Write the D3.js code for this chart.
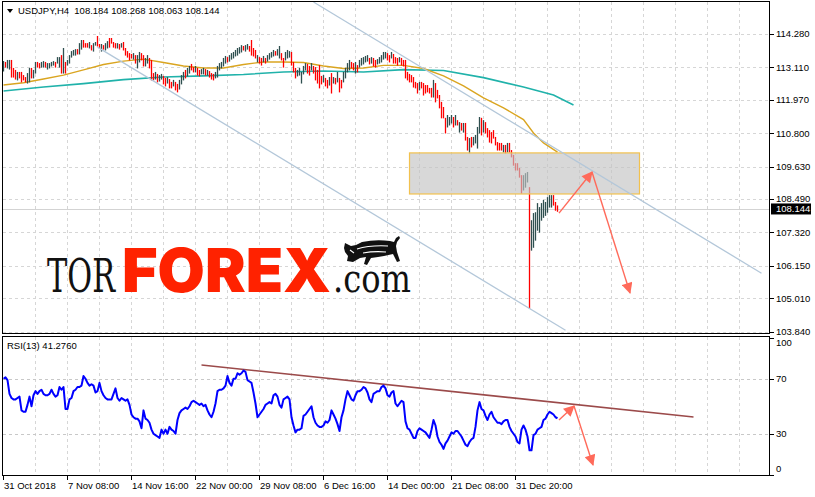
<!DOCTYPE html>
<html><head><meta charset="utf-8">
<script src="https://cdn.jsdelivr.net/npm/d3@7"></script>
<style>body{margin:0;background:#fff}svg{display:block}text{font-family:"Liberation Sans",Arial,sans-serif}</style>
</head><body>
<svg id="c" width="815" height="497"></svg>
<script>
// ---------------- DATA ----------------
const symbolTitle = "USDJPY,H4";
const lastOHLC = [108.184, 108.268, 108.063, 108.144];
const rsiTitle = "RSI(13) 41.2760";
const priceTicks = [114.280, 113.110, 111.970, 110.800, 109.630, 108.490, 107.320, 106.150, 105.010, 103.840];
const rsiTicks = [100, 70, 30, 0];
const rsiLevels = [70, 30];
const dateTickBars = [0, 32, 64, 96, 128, 160, 192, 224, 256];
const dateTickLabels = ["31 Oct 2018", "7 Nov 08:00", "14 Nov 16:00", "22 Nov 00:00", "29 Nov 08:00", "6 Dec 16:00", "14 Dec 00:00", "21 Dec 08:00", "31 Dec 20:00"];

const highs = [
113.33,113.30,113.37,113.37,113.37,113.09,113.02,112.95,112.95,112.95,
112.84,112.77,112.91,113.09,113.09,113.02,113.30,113.30,113.26,113.30,
113.33,113.30,113.26,113.26,113.30,113.33,113.30,113.47,113.47,113.54,
113.79,113.30,113.37,113.54,113.68,113.72,113.75,113.75,113.96,114.07,
114.07,113.96,113.96,114.00,113.89,113.96,114.00,114.21,113.93,113.93,
113.89,113.96,114.03,114.14,114.14,114.00,113.96,113.96,113.93,113.96,
114.00,113.79,113.68,113.61,113.58,113.61,113.54,113.54,113.65,113.61,
113.54,113.44,113.54,113.44,113.37,112.91,112.95,112.88,112.84,112.88,
112.81,112.74,112.77,112.70,112.60,112.67,112.60,112.53,112.67,112.84,
112.95,113.02,113.09,113.16,113.23,113.12,113.16,113.09,113.02,113.05,
113.09,113.05,113.02,112.98,112.91,112.88,112.95,113.16,113.26,113.30,
113.44,113.51,113.47,113.54,113.61,113.65,113.72,113.79,113.82,113.89,
113.86,113.89,113.93,113.86,114.07,113.79,113.72,113.54,113.47,113.44,
113.51,113.44,113.54,113.61,113.65,113.72,113.68,113.75,113.86,113.61,
113.44,113.65,113.72,113.68,113.65,113.30,113.09,113.02,113.09,112.95,
113.16,113.26,113.23,113.16,113.26,113.16,113.12,113.02,113.19,112.81,
112.84,112.74,112.67,112.77,112.91,112.77,112.74,112.95,112.74,112.67,
112.95,113.09,113.26,113.37,113.30,113.26,113.30,113.19,113.37,113.44,
113.47,113.51,113.54,113.44,113.47,113.44,113.37,113.40,113.47,113.54,
113.65,113.65,113.61,113.54,113.65,113.58,113.47,113.44,113.47,113.44,
113.37,113.37,112.95,112.88,112.84,112.77,112.60,112.56,112.60,112.60,
112.56,112.49,112.49,112.39,112.39,112.67,112.56,112.32,112.14,111.90,
111.72,111.34,111.44,111.37,111.44,111.37,111.44,111.26,111.19,111.16,
111.16,111.16,110.67,110.63,110.67,110.67,110.74,111.02,111.37,111.34,
111.26,111.19,110.98,110.91,110.84,110.91,110.67,110.49,110.46,110.46,
110.39,110.39,110.46,110.46,110.21,110.04,109.75,109.75,109.58,109.33,
109.33,109.40,109.44,108.91,107.75,108.00,108.03,108.35,108.21,108.35,
108.46,108.39,108.56,108.63,108.63,108.63,108.39,108.268];

const lows = [
112.98,113.12,113.09,113.05,112.77,112.77,112.70,112.67,112.74,112.60,
112.67,112.60,112.56,112.60,112.74,112.74,112.91,113.12,113.09,113.12,
113.12,113.12,113.05,113.09,113.16,113.19,113.12,113.26,113.12,112.91,
112.91,112.91,113.19,113.26,113.47,113.54,113.54,113.58,113.58,113.75,
113.82,113.82,113.82,113.79,113.72,113.68,113.89,113.86,113.79,113.68,
113.75,113.72,113.79,113.82,113.96,113.82,113.79,113.79,113.75,113.82,
113.72,113.54,113.47,113.37,113.44,113.40,113.26,113.09,113.30,113.37,
113.16,113.16,113.26,113.09,112.67,112.67,112.70,112.60,112.63,112.70,
112.53,112.46,112.56,112.39,112.39,112.46,112.32,112.25,112.35,112.53,
112.67,112.74,112.81,112.91,113.02,112.95,112.95,112.84,112.81,112.88,
112.88,112.84,112.84,112.77,112.70,112.67,112.74,112.77,113.02,113.09,
113.16,113.26,113.30,113.33,113.40,113.44,113.51,113.54,113.61,113.65,
113.72,113.68,113.75,113.68,113.54,113.51,113.44,113.30,113.26,113.19,
113.30,113.26,113.33,113.40,113.47,113.51,113.54,113.54,113.44,113.37,
113.12,113.37,113.44,113.47,113.19,112.95,112.74,112.81,112.84,112.56,
112.88,113.02,112.91,112.84,113.02,112.91,112.67,112.56,112.39,112.53,
112.60,112.46,112.39,112.49,112.21,112.56,112.53,112.60,112.25,112.39,
112.60,112.74,112.95,113.02,113.09,113.02,112.91,112.95,113.12,113.19,
113.23,113.30,113.33,113.23,113.26,113.16,113.12,113.23,113.26,113.30,
113.40,113.44,113.37,113.30,113.44,113.26,113.26,113.19,113.30,113.19,
113.16,112.74,112.67,112.60,112.60,112.42,112.39,112.21,112.32,112.39,
112.14,112.21,112.25,112.21,112.07,112.07,111.90,112.04,111.69,111.34,
111.34,110.81,111.02,111.09,111.16,111.02,111.09,111.09,110.84,110.91,
110.84,110.56,110.21,110.11,110.32,110.39,110.46,110.28,110.81,110.74,
110.84,110.81,110.67,110.49,110.46,110.63,110.39,110.21,110.21,110.21,
110.14,110.11,110.14,110.14,109.97,109.68,109.51,109.51,109.26,108.70,
108.81,108.91,109.09,104.66,106.70,106.80,107.05,107.40,107.33,107.75,
107.85,107.92,108.03,108.21,108.21,108.28,108.10,108.063];

// U = bullish bar, D = bearish bar
const barDir =
"UDUUDDDUDD"+"DDUUDUUDDU"+"UDUUUUDUUD"+"UDUUUUUDUU"+"DDDUDUUDDU"+
"DUUDDDDUDU"+"DDDDDUDUUD"+"DUUDDDUDUU"+"DDUDDUDDUU"+"UDUUDDUDDU"+
"UDUDDDUUUU"+"UUDUUUUUUU"+"DUUDDDDUDD"+"UDUUUUDUUD"+"DUUUDDDUUU"+
"UUDDUDDDDD"+"UDDUDUDUDD"+"UUUUDDUDUU"+"UUUDUDDUUU"+"UUDDUDDDUD"+
"DDDDDDDDUD"+"DDDDDUDDDD"+"DDUUUDUDUD"+"UDDUDUUUUD"+"UDDDDDDDDD"+
"UDUDDDDDDD"+"UUUDUUUUUU"+"UUUUUDDD";

const rsiValues = [
70,71,69,59,56,55,55,56,57,47,
46,46,51,57,50,58,61,59,61,62,
59,58,58,59,62,59,57,58,64,62,
64,48,48,55,56,61,62,64,64,65,
72,70,67,65,66,65,60,61,67,61,
58,56,55,55,55,59,63,56,54,56,
55,54,55,51,44,42,41,41,39,34,
47,41,40,38,33,30,29,28,27,33,
30,33,30,35,33,32,30,40,45,47,
48,49,48,50,53,54,53,52,51,52,
50,51,47,44,42,46,52,61,62,62,
63,65,72,67,65,70,70,74,73,74,
76,75,69,68,67,60,52,42,44,46,
48,51,52,53,52,58,59,57,51,49,
55,56,57,55,42,36,31,33,33,34,
43,44,46,48,50,42,38,36,35,35,
36,39,38,40,47,44,41,37,32,42,
47,55,61,58,55,54,58,61,61,62,
64,63,60,55,53,59,60,61,61,64,
65,63,58,57,60,61,52,50,52,54,
53,39,34,33,30,27,27,32,34,33,
32,31,29,27,33,40,36,28,24,22,
19,23,25,28,31,30,32,32,30,28,
25,22,21,24,26,27,35,47,53,48,
47,43,40,44,46,42,40,38,38,37,
39,40,40,35,32,30,28,24,23,33,
36,33,28,18,18,29,30,33,34,35,
40,41,44,46,45,44,42,41.276];

// moving averages (bar index, value)
const maFastBars = [0,10,20,30,40,50,60,70,80,90,100,110,120,130,140,150,160,170,180,190,200,210,220,230,240,250,260,265,270,277];
const maFastVals = [112.49,112.57,112.70,112.84,113.02,113.21,113.33,113.40,113.28,113.16,113.09,113.09,113.21,113.30,113.30,113.28,113.16,113.07,113.09,113.18,113.18,113.07,112.81,112.46,112.04,111.69,111.28,110.81,110.46,110.14];
const maSlowBars = [0,20,40,60,80,100,120,140,160,180,200,220,240,260,275,285];
const maSlowVals = [112.28,112.42,112.54,112.68,112.77,112.81,112.86,112.95,112.98,112.95,113.03,113.00,112.75,112.42,112.14,111.79];

// drawn objects (bar index, price)
const channelUpper = [[155, 115.40], [379, 105.89]];
const channelLower = [[47, 113.82], [281, 103.89]];
const zoneBars = [203, 318];
const zonePrices = [110.11, 108.67];
const forecastPath = [[277.75, 108.00], [294.25, 109.44], [313.25, 105.20]];
const rsiTrend = [[99, 80], [345, 42.2]];
const rsiForecast = [[277.75, 40], [285.25, 50.2], [294.75, 7.3]];

// ---------------- CHART ----------------
const svg = d3.select("#c");
const x = d3.scaleLinear().domain([0, 383]).range([3.5, 769.5]);
const y = d3.scaleLinear().domain([103.84, 114.28]).range([331.7, 34]);
const yr = d3.scaleLinear().domain([0, 100]).range([475, 337.5]);

const gridCol = "#d6d6d6";
const defs = svg.append("defs");
defs.append("clipPath").attr("id", "cm").append("rect").attr("x", 3).attr("y", 2).attr("width", 767).attr("height", 331);
defs.append("clipPath").attr("id", "cr").append("rect").attr("x", 3).attr("y", 337).attr("width", 767).attr("height", 139);
defs.append("marker").attr("id", "ah").attr("viewBox", "0 0 10 10").attr("refX", 9).attr("refY", 5)
  .attr("markerWidth", 13).attr("markerHeight", 11).attr("markerUnits", "userSpaceOnUse").attr("orient", "auto")
  .append("path").attr("d", "M0,0 L10,5 L0,10 z").attr("fill", "#ff6a5a");

const gm = svg.append("g").attr("clip-path", "url(#cm)");
const gr = svg.append("g").attr("clip-path", "url(#cr)");

// grids
const vgrid = d3.range(16, 370, 16);
gm.selectAll("line.vg").data(vgrid).join("line").attr("x1", d => x(d)).attr("x2", d => x(d)).attr("y1", 2).attr("y2", 333)
  .attr("stroke", gridCol).attr("stroke-dasharray", "3,3");
gm.selectAll("line.hg").data(priceTicks).join("line").attr("x1", 3).attr("x2", 770)
  .attr("y1", d => Math.round(y(d)) + 0.5).attr("y2", d => Math.round(y(d)) + 0.5)
  .attr("stroke", gridCol).attr("stroke-dasharray", "3,3");
gr.selectAll("line.vg").data(vgrid).join("line").attr("x1", d => x(d)).attr("x2", d => x(d)).attr("y1", 337).attr("y2", 476)
  .attr("stroke", gridCol).attr("stroke-dasharray", "3,3");
gr.selectAll("line.hg").data(rsiLevels).join("line").attr("x1", 3).attr("x2", 770)
  .attr("y1", d => Math.round(yr(d)) + 0.5).attr("y2", d => Math.round(yr(d)) + 0.5)
  .attr("stroke", "#c8c8c8").attr("stroke-dasharray", "3,3");

// bid line
gm.append("line").attr("x1", 3).attr("x2", 770).attr("y1", Math.round(y(lastOHLC[3])) + 0.5).attr("y2", Math.round(y(lastOHLC[3])) + 0.5)
  .attr("stroke", "#d3d3d3");

// logo (watermark)
const logo = svg.append("g");
logo.append("text").attr("transform", "translate(47,292) scale(1,1.5)").attr("font-size", 31)
  .attr("textLength", 68).attr("lengthAdjust", "spacingAndGlyphs").attr("fill", "#111").style("font-family", "DejaVu Serif").text("TOR");
logo.append("text").attr("x", 122).attr("y", 292).attr("font-size", 61).attr("font-weight", 900)
  .attr("textLength", 209).attr("lengthAdjust", "spacingAndGlyphs").attr("fill", "#ff2200").style("font-family", "Inter, 'Open Sans', sans-serif").text("FOREX");
logo.append("text").attr("x", 333).attr("y", 292).attr("font-size", 40)
  .attr("textLength", 78).attr("lengthAdjust", "spacingAndGlyphs").attr("fill", "#111").style("font-family", "DejaVu Serif").text(".com");
// bull emblem
logo.append("path").attr("d",
  "M345,243 L351,246 L356,245 L362,242 Q376,239 390,241 L394,242 L396,238 L399,236 L400,238 L397,242 L396,246 L397,252 L400,261 L397,262 L393,254 L384,256 L378,257 L371,258 L367,265 L364,264 L366,257 L360,258 L353,262 L347,261 L348,256 L345,252 L344,248 Z")
  .attr("fill", "#111");
logo.append("path").attr("d", "M357,249 Q370,245 388,246 M363,253 Q374,251 386,252 M350,250 L354,253")
  .attr("stroke", "#fff").attr("fill", "none").attr("stroke-width", 1.1);

// moving averages
const lineGen = d3.line().x(d => x(d[0])).y(d => y(d[1]));
gm.append("path").attr("d", lineGen(maSlowBars.map((b, k) => [b, maSlowVals[k]])))
  .attr("fill", "none").attr("stroke", "#20b2aa").attr("stroke-width", 1.6);
gm.append("path").attr("d", lineGen(maFastBars.map((b, k) => [b, maFastVals[k]])))
  .attr("fill", "none").attr("stroke", "#daa520").attr("stroke-width", 1.4);

// bars
const bars = highs.map((h, i) => ({ i, h, l: lows[i], up: barDir[i] === "U" }));
gm.selectAll("line.bar").data(bars).join("line")
  .attr("x1", d => x(d.i)).attr("x2", d => x(d.i))
  .attr("y1", d => y(d.h)).attr("y2", d => y(d.l) + 0.5)
  .attr("stroke", d => d.up ? "#2f4f4f" : "#ff0000").attr("stroke-width", 1.3);

// zone
gm.append("rect").attr("x", x(zoneBars[0])).attr("y", y(zonePrices[0]))
  .attr("width", x(zoneBars[1]) - x(zoneBars[0])).attr("height", y(zonePrices[1]) - y(zonePrices[0]))
  .attr("fill", "#c4c4c4").attr("fill-opacity", 0.66).attr("stroke", "#f2c14e").attr("stroke-width", 1.2);

// channels
[channelUpper, channelLower].forEach(c => {
  gm.append("line").attr("x1", x(c[0][0])).attr("y1", y(c[0][1])).attr("x2", x(c[1][0])).attr("y2", y(c[1][1]))
    .attr("stroke", "#b3c7d9").attr("stroke-width", 1.3);
});

// forecast arrows
for (let k = 0; k < forecastPath.length - 1; k++) {
  gm.append("line").attr("x1", x(forecastPath[k][0])).attr("y1", y(forecastPath[k][1]))
    .attr("x2", x(forecastPath[k + 1][0])).attr("y2", y(forecastPath[k + 1][1]))
    .attr("stroke", "#ff6a5a").attr("stroke-width", 1.4).attr("marker-end", "url(#ah)");
}

// RSI
gr.append("line").attr("x1", x(rsiTrend[0][0])).attr("y1", yr(rsiTrend[0][1])).attr("x2", x(rsiTrend[1][0])).attr("y2", yr(rsiTrend[1][1]))
  .attr("stroke", "#9b4a4a").attr("stroke-width", 1.6);
gr.append("path").attr("d", d3.line().x((d, i) => x(i)).y(d => yr(d))(rsiValues))
  .attr("fill", "none").attr("stroke", "#0000ff").attr("stroke-width", 2).attr("stroke-linejoin", "round");
for (let k = 0; k < rsiForecast.length - 1; k++) {
  gr.append("line").attr("x1", x(rsiForecast[k][0])).attr("y1", yr(rsiForecast[k][1]))
    .attr("x2", x(rsiForecast[k + 1][0])).attr("y2", yr(rsiForecast[k + 1][1]))
    .attr("stroke", "#ff6a5a").attr("stroke-width", 1.4).attr("marker-end", "url(#ah)");
}

// frames
svg.append("rect").attr("x", 2.5).attr("y", 1.5).attr("width", 767).attr("height", 332).attr("fill", "none").attr("stroke", "#000");
svg.append("rect").attr("x", 2.5).attr("y", 336.5).attr("width", 767).attr("height", 139).attr("fill", "none").attr("stroke", "#000");

// price axis
const pa = svg.append("g");
pa.selectAll("line").data(priceTicks).join("line").attr("x1", 770).attr("x2", 774)
  .attr("y1", d => Math.round(y(d)) + 0.5).attr("y2", d => Math.round(y(d)) + 0.5).attr("stroke", "#000");
pa.selectAll("text").data(priceTicks).join("text").attr("x", 776).attr("y", d => y(d)).attr("dy", "0.35em")
  .attr("font-size", 9.5).attr("fill", "#000").text(d => d.toFixed(3));
const ly = y(lastOHLC[3]);
pa.append("rect").attr("x", 771).attr("y", ly - 5.5).attr("width", 40).attr("height", 11).attr("fill", "#000");
pa.append("text").attr("x", 776).attr("y", ly).attr("dy", "0.35em").attr("font-size", 9.5).attr("fill", "#fff").text(lastOHLC[3].toFixed(3));

// rsi axis
const ra = svg.append("g");
ra.selectAll("line").data(rsiTicks).join("line").attr("x1", 770).attr("x2", 774)
  .attr("y1", d => Math.round(yr(d)) + 0.5).attr("y2", d => Math.round(yr(d)) + 0.5).attr("stroke", "#000");
ra.selectAll("text").data(rsiTicks).join("text").attr("x", 776)
  .attr("y", d => yr(d) + (d === 100 ? 5 : d === 0 ? -6 : 0)).attr("dy", "0.35em")
  .attr("font-size", 9.5).attr("fill", "#000").text(d => d);

// time axis
const ta = svg.append("g");
ta.selectAll("line").data(dateTickBars).join("line").attr("x1", d => x(d)).attr("x2", d => x(d)).attr("y1", 476).attr("y2", 480).attr("stroke", "#000");
ta.selectAll("text").data(dateTickBars).join("text").attr("x", d => x(d) + 0.5).attr("y", 489)
  .attr("font-size", 9.5).attr("fill", "#000").text((d, k) => dateTickLabels[k]);

// titles
svg.append("path").attr("d", "M7,9 L13,9 L10,13 Z").attr("fill", "#000");
svg.append("text").attr("x", 18).attr("y", 14).attr("font-size", 9.5).attr("fill", "#000")
  .attr("xml:space", "preserve").style("white-space", "pre")
  .text(symbolTitle + "  " + lastOHLC.map(v => v.toFixed(3)).join(" "));
svg.append("text").attr("x", 7).attr("y", 349).attr("font-size", 9.5).attr("fill", "#000").text(rsiTitle);
</script>
</body></html>
